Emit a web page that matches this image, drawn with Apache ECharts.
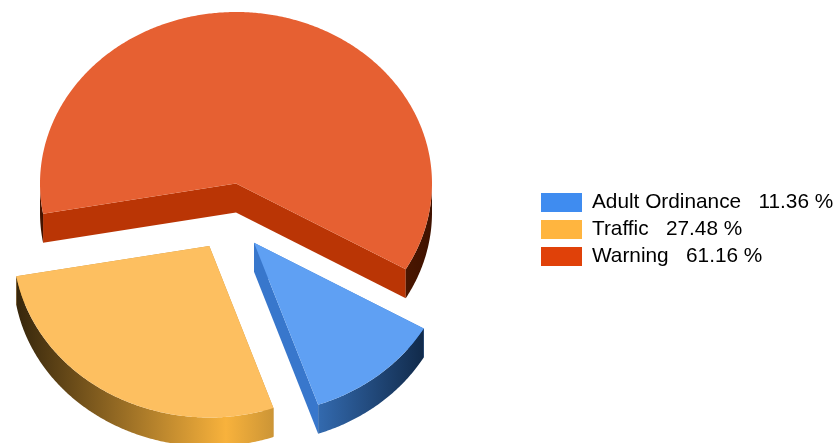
<!DOCTYPE html>
<html>
<head>
<meta charset="utf-8">
<style>html,body{margin:0;padding:0;background:#fff}#chart{width:839px;height:443px}</style>
<script src="https://cdn.jsdelivr.net/npm/echarts@6/dist/echarts.min.js"></script>
</head>
<body>
<div id="chart"></div>
<script>
const categories = ['Adult Ordinance', 'Traffic', 'Warning'];
const percentages = [11.36, 27.48, 61.16];

const swatchColors = ['#3F8CF0', '#FFB53F', '#E04109'];
const topColors = ['#5FA0F3', '#FDBF60', '#E66032'];
const cutColors = ['#3877CC', '#C98F35', '#BA3505'];
const rimStops = [
  [[0, '#336AAF'], [1, '#112A4A']],
  [[0, '#36260C'], [0.815, '#F8B23C'], [1, '#CC9536']],
  [[0, '#4A1600'], [1, '#3F1200']]
];
const explodeX = [18, -26.7, 0];
const explodeY = [59.2, 62.5, 0];

const centerX = 236, centerY = 183.5, radiusX = 196, radiusY = 171.5, depth = 29, firstAngle = 30;

function edge(cx, cy, deg) {
  const r = deg * Math.PI / 180;
  return [cx + radiusX * Math.cos(r), cy + radiusY * Math.sin(r)];
}
function arc(cx, cy, from, to) {
  const pts = [], n = Math.max(2, Math.ceil(Math.abs(to - from) * 2));
  for (let i = 0; i <= n; i++) pts.push(edge(cx, cy, from + (to - from) * i / n));
  return pts;
}
function poly(points, fill) {
  return { type: 'polygon', shape: { points: points }, style: { fill: fill, stroke: null } };
}
function sliceItem(index, value) {
  const total = percentages.reduce((a, b) => a + b, 0);
  const before = percentages.slice(0, index).reduce((a, b) => a + b, 0);
  const a0 = firstAngle + before / total * 360;
  const a1 = a0 + value / total * 360;
  const cx = centerX + explodeX[index], cy = centerY + explodeY[index];
  const children = [];
  [a0, a1].forEach(a => {
    const p = edge(cx, cy, a);
    children.push(poly([[cx, cy], p, [p[0], p[1] + depth], [cx, cy + depth]], cutColors[index]));
  });
  [0, 360].forEach(k => {
    const lo = Math.max(a0, k), hi = Math.min(a1, k + 180);
    if (hi > lo) {
      const upper = arc(cx, cy, lo, hi);
      const lower = arc(cx, cy + depth, hi, lo);
      children.push(poly(upper.concat(lower), {
        type: 'linear', x: 0, y: 0, x2: 1, y2: 0,
        colorStops: rimStops[index].map(s => ({ offset: s[0], color: s[1] }))
      }));
    }
  });
  children.push(poly([[cx, cy]].concat(arc(cx, cy, a0, a1)), topColors[index]));
  return { type: 'group', children: children };
}

const chart = echarts.init(document.getElementById('chart'));
chart.setOption({
  backgroundColor: '#fff',
  animation: false,
  legend: {
    orient: 'vertical', left: 541, top: 192, icon: 'rect',
    itemWidth: 41, itemHeight: 19, itemGap: 6, padding: 0,
    data: categories,
    formatter: name => name + '   ' + percentages[categories.indexOf(name)].toFixed(2) + ' %',
    textStyle: { fontFamily: 'Liberation Sans', fontSize: 20.8, color: '#000', padding: [0, 0, 0, 5] }
  },
  series: categories.map((name, i) => ({
    type: 'custom', name: name, coordinateSystem: 'none',
    itemStyle: { color: swatchColors[i] },
    data: [[percentages[i]]],
    renderItem: (params, api) => sliceItem(i, api.value(0))
  }))
});
</script>
</body>
</html>
